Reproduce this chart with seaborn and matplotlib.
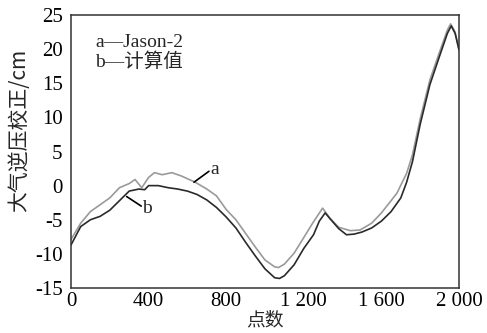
import matplotlib
matplotlib.use("Agg")
import matplotlib.pyplot as plt
import seaborn as sns
import pandas as pd

# Series a: Jason-2 (gray)
a_x = [0, 50, 100, 150, 200, 250, 300, 330, 350, 365, 400, 430, 470, 520, 570, 640,
       700, 750, 800, 850, 900, 950, 1000, 1050, 1070, 1100, 1150, 1200, 1250, 1297,
       1335, 1380, 1440, 1490, 1550, 1600, 1650, 1680, 1730, 1760, 1800, 1850, 1900,
       1940, 1957, 1980, 2000]
a_y = [-7.9, -5.5, -3.8, -2.8, -1.8, -0.3, 0.3, 0.9, 0.2, -0.3, 1.2, 1.9, 1.6, 1.9, 1.4, 0.5,
       -0.5, -1.5, -3.5, -5.0, -7.0, -9.0, -10.9, -11.9, -12.0, -11.5, -9.9, -7.6, -5.3, -3.3,
       -4.8, -6.1, -6.6, -6.5, -5.5, -4.0, -2.2, -1.1, 1.8, 4.5, 9.8, 15.5, 19.6,
       22.8, 23.7, 22.5, 19.9]

# Series b: computed (dark)
b_x = [0, 50, 100, 150, 200, 250, 300, 350, 380, 400, 450, 500, 550, 600, 650, 700,
       750, 800, 850, 900, 950, 1000, 1050, 1075, 1100, 1150, 1200, 1250, 1280, 1310,
       1340, 1380, 1420, 1460, 1500, 1550, 1600, 1650, 1700, 1730, 1760, 1800, 1850,
       1900, 1940, 1960, 1980, 2000]
b_y = [-8.7, -6.0, -5.0, -4.5, -3.6, -2.2, -0.8, -0.5, -0.6, 0.0, 0.0, -0.3, -0.5, -0.8, -1.3, -2.1,
       -3.2, -4.6, -6.2, -8.3, -10.3, -12.2, -13.5, -13.6, -13.2, -11.6, -9.2, -7.2, -5.2, -4.0,
       -5.0, -6.3, -7.2, -7.1, -6.8, -6.2, -5.2, -3.8, -1.8, 0.5, 3.5, 9.0, 14.8,
       19.0, 22.3, 23.4, 22.3, 19.9]

x_ticks = [0, 400, 800, 1200, 1600, 2000]
x_tick_labels = ["0", "400", "800", "1 200", "1 600", "2 000"]
y_ticks = [-15, -10, -5, 0, 5, 10, 15, 20, 25]

df = pd.concat([
    pd.DataFrame({"x": a_x, "y": a_y, "s": "a"}),
    pd.DataFrame({"x": b_x, "y": b_y, "s": "b"}),
])

sns.set_style("white")
plt.rcParams["font.family"] = ["Liberation Serif", "Noto Sans CJK SC"]
plt.rcParams["axes.unicode_minus"] = False

fig = plt.figure(figsize=(4.87, 3.33), dpi=100)
ax = fig.add_axes([71/487, 1-288/333, (459-71)/487, (288-15)/333])

sns.lineplot(data=df, x="x", y="y", hue="s", palette={"a": "#9a9a9a", "b": "#2a2a2a"},
             linewidth=1.2, legend=False, ax=ax, estimator=None, sort=True)

ax.set_xlim(0, 2000)
ax.set_ylim(-15, 25)
ax.set_xticks(x_ticks)
ax.set_xticklabels(x_tick_labels)
ax.set_yticks(y_ticks)
ax.tick_params(axis="both", direction="in", length=5, width=1, colors="#222222",
               labelsize=15, labelcolor="black", top=False, right=False)
ax.tick_params(axis="y", pad=6)
ax.tick_params(axis="x", pad=3)
for sp in ax.spines.values():
    sp.set_color("#333333")
    sp.set_linewidth(1.1)

ax.set_xlabel("点数", fontsize=13.5, family=["Noto Sans CJK SC"], labelpad=-1)
ax.set_ylabel("")
fig.text(19/487, 1-130/333, "大气逆压校正/cm", fontsize=15, rotation=90,
         ha="center", va="center", family=["Noto Sans CJK SC", "Liberation Serif"])

ax.text(124, 20.9, "a—Jason-2", fontsize=14, va="center", ha="left")
ax.text(124, 18.1, "b—计算值", fontsize=14, va="center", ha="left",
        family=["Liberation Serif", "Noto Sans CJK SC"])

# curve labels with leader lines
ax.plot([634, 711], [0.5, 2.1], color="black", linewidth=1.2)
ax.text(716, 2.4, "a", fontsize=14, va="center", ha="left")
ax.plot([287, 362], [-1.6, -3.0], color="black", linewidth=1.2)
ax.text(366, -3.4, "b", fontsize=14, va="center", ha="left")

fig.savefig("out.png", dpi=100)
